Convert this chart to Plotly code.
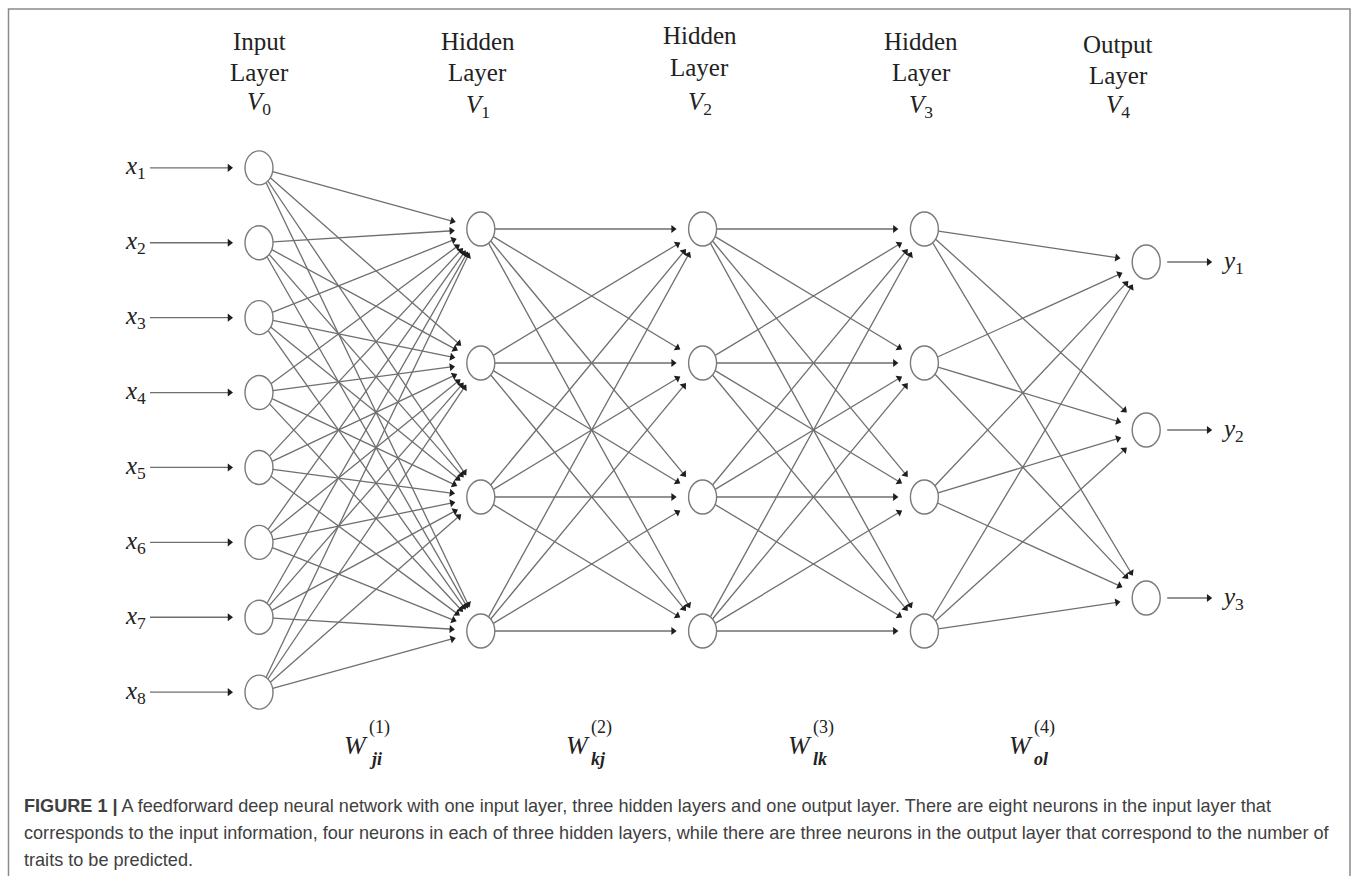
import numpy as np
import plotly.graph_objects as go

# ---------------- data ----------------
layer_titles = ["Input", "Hidden", "Hidden", "Hidden", "Output"]
layer_word = ["Layer", "Layer", "Layer", "Layer", "Layer"]
layer_symbols = ["0", "1", "2", "3", "4"]
layer_sizes = [8, 4, 4, 4, 3]
input_labels = ["1", "2", "3", "4", "5", "6", "7", "8"]
output_labels = ["1", "2", "3"]
weight_subs = ["ji", "kj", "lk", "ol"]
weight_sups = ["(1)", "(2)", "(3)", "(4)"]
caption_bold = "FIGURE 1 |"
caption_lines = [
    " A feedforward deep neural network with one input layer, three hidden layers and one output layer. There are eight neurons in the input layer that",
    "corresponds to the input information, four neurons in each of three hidden layers, while there are three neurons in the output layer that correspond to the number of",
    "traits to be predicted.",
]

# ---------------- style / layout constants ----------------
W, H = 1355, 876
X0, DX = 259, 221.8
CY = 430
GAP = {8: 74.9, 4: 134, 3: 168}
RX, RY = 14, 17
END_D = 26
HEAD = 7
EDGE_COL = "#6f6f6f"
HEAD_COL = "#1e1e1e"
NODE_COL = "#7a7a7a"
SERIF = "Liberation Serif"
SANS = "Liberation Sans"
TXT = "#222222"

title_dy = [(0, 41, 72, 103), (-3, 41, 72, 106), (-3, 35, 67, 103), (-3, 41, 72, 106), (-28, 44, 75, 106)]
W_Y = (745, 727, 759)          # W, superscript, subscript rows
CAP_Y = [806, 833, 860]

layer_x = [X0 + i * DX for i in range(len(layer_sizes))]
node_y = [[CY + (j - (n - 1) / 2) * GAP[n] for j in range(n)] for n in layer_sizes]

fig = go.Figure()
annotations = []
shapes = []


def boundary(cx, cy, ux, uy):
    t = 1.0 / np.sqrt((ux / RX) ** 2 + (uy / RY) ** 2)
    return cx + t * ux, cy + t * uy


lx, ly = [], []
hx, hy, hang = [], [], []


def add_edge(x0, y0, x1, y1, ux, uy):
    lx.extend([x0, x1 - ux * 2, None])
    ly.extend([y0, y1 - uy * 2, None])
    r = HEAD / 2
    hx.append(x1 - ux * r)
    hy.append(y1 - uy * r)
    hang.append(float(np.degrees(np.arctan2(ux, -uy))))


# connections between layers
for li in range(len(layer_sizes) - 1):
    for ys in node_y[li]:
        for yt in node_y[li + 1]:
            sx, sy = layer_x[li], ys
            tx, ty = layer_x[li + 1], yt
            dx, dy = tx - sx, ty - sy
            L = np.hypot(dx, dy)
            ux, uy = dx / L, dy / L
            bx, by = boundary(sx, sy, ux, uy)
            add_edge(bx, by, tx - ux * END_D, ty - uy * END_D, ux, uy)

# input arrows + labels
for i, y in enumerate(node_y[0]):
    add_edge(layer_x[0] - 109, y, layer_x[0] - 26, y, 1.0, 0.0)
    annotations.append(dict(x=layer_x[0] - 124, y=y, xref="x", yref="y", showarrow=False,
                            text=f"<i>x</i><sub>{input_labels[i]}</sub>",
                            font=dict(family=SERIF, size=25, color=TXT)))
# output arrows + labels
for i, y in enumerate(node_y[-1]):
    add_edge(layer_x[-1] + 21, y, layer_x[-1] + 66, y, 1.0, 0.0)
    annotations.append(dict(x=layer_x[-1] + 73, y=y, xref="x", yref="y", showarrow=False,
                            xanchor="left",
                            text=f"<i>y</i><sub>{output_labels[i]}</sub>",
                            font=dict(family=SERIF, size=25, color=TXT)))

fig.add_trace(go.Scatter(x=lx, y=ly, mode="lines", line=dict(color=EDGE_COL, width=1.3),
                         hoverinfo="skip", showlegend=False))
fig.add_trace(go.Scatter(x=hx, y=hy, mode="markers",
                         marker=dict(symbol="triangle-up", size=HEAD, angle=hang, color=HEAD_COL,
                                     line=dict(width=0)),
                         hoverinfo="skip", showlegend=False))

# nodes
for li, ys in enumerate(node_y):
    for y in ys:
        shapes.append(dict(type="circle", xref="x", yref="y",
                           x0=layer_x[li] - RX, x1=layer_x[li] + RX, y0=y - RY, y1=y + RY,
                           line=dict(color=NODE_COL, width=1.4), fillcolor="white", layer="above"))

# layer titles
for li in range(len(layer_sizes)):
    off, y1, y2, y3 = title_dy[li]
    cx = layer_x[li] + off
    annotations.append(dict(x=cx, y=y1, xref="x", yref="y", showarrow=False,
                            text=layer_titles[li], font=dict(family=SERIF, size=25, color=TXT)))
    annotations.append(dict(x=cx, y=y2, xref="x", yref="y", showarrow=False,
                            text=layer_word[li], font=dict(family=SERIF, size=25, color=TXT)))
    annotations.append(dict(x=cx, y=y3, xref="x", yref="y", showarrow=False,
                            text=f"<i>V</i><sub>{layer_symbols[li]}</sub>",
                            font=dict(family=SERIF, size=25, color=TXT)))

# weight labels
for li in range(len(layer_sizes) - 1):
    mx = (layer_x[li] + layer_x[li + 1]) / 2 - 14
    annotations.append(dict(x=mx, y=W_Y[0], xref="x", yref="y", showarrow=False, xanchor="center",
                            text="<i>W</i>", font=dict(family=SERIF, size=26, color=TXT)))
    annotations.append(dict(x=mx + 11, y=W_Y[1], xref="x", yref="y", showarrow=False, xanchor="left",
                            text=weight_sups[li], font=dict(family=SERIF, size=18, color=TXT)))
    annotations.append(dict(x=mx + 11, y=W_Y[2], xref="x", yref="y", showarrow=False, xanchor="left",
                            text=f"<i><b>{weight_subs[li]}</b></i>", font=dict(family=SERIF, size=18, color=TXT)))

# caption
for i, line in enumerate(caption_lines):
    txt = (f"<b>{caption_bold}</b>" + line) if i == 0 else line
    annotations.append(dict(x=22, y=CAP_Y[i], xref="x", yref="y", showarrow=False, xanchor="left",
                            text=txt, font=dict(family=SANS, size=18.1, color="#404040")))

# frame
shapes.append(dict(type="rect", xref="x", yref="y", x0=8.5, x1=1350, y0=9, y1=900,
                   line=dict(color="#8a8a8a", width=1.5), fillcolor="rgba(0,0,0,0)", layer="above"))

fig.update_layout(
    width=W, height=H, margin=dict(l=0, r=0, t=0, b=0),
    paper_bgcolor="white", plot_bgcolor="white",
    xaxis=dict(range=[0, W], visible=False, fixedrange=True),
    yaxis=dict(range=[H, 0], visible=False, fixedrange=True),
    annotations=annotations, shapes=shapes, showlegend=False,
)

fig.write_html("out.html", config={"displayModeBar": False},
               post_script="document.body.style.margin='0';document.body.style.overflow='hidden';")
